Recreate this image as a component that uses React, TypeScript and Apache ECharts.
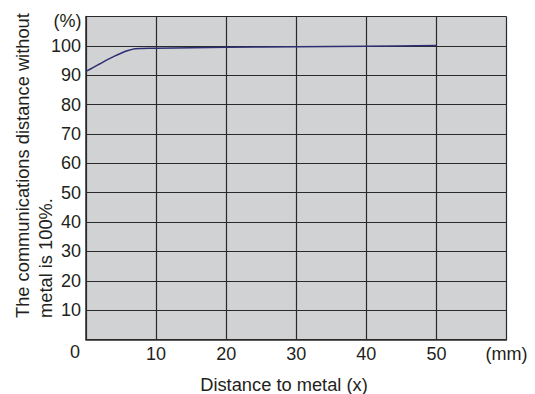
import React, { useEffect, useRef } from "react";
import * as echarts from "echarts";

const xDistance = [0, 1, 2, 3, 4, 5, 6, 7, 8, 10, 20, 30, 40, 50];
const yPercent = [91.3, 92.6, 93.9, 95.2, 96.4, 97.5, 98.4, 99.0, 99.1, 99.2, 99.5, 99.7, 99.9, 100.1];
const xTickLabels: Record<number, string> = { 0: "", 10: "10", 20: "20", 30: "30", 40: "40", 50: "50", 60: "(mm)" };
const yTickLabels: Record<number, string> = { 0: "", 110: "" };
const yUnit = "(%)";
const xTitle = "Distance to metal (x)";
const yTitleLines = ["The communications distance without", "metal is 100%."];

const FONT = "'Liberation Sans', Arial, Helvetica, sans-serif";
const TICK = 18;

export default function App() {
  const ref = useRef<HTMLDivElement>(null);
  useEffect(() => {
    if (!ref.current) return;
    const chart = echarts.init(ref.current, null, { renderer: "svg" });
    chart.setOption({
      animation: false,
      grid: { left: 86, top: 16.5, right: 28.5, bottom: 54.5, show: true, backgroundColor: "#d1d2d4", borderWidth: 0 },
      xAxis: {
        type: "value",
        min: 0,
        max: 60,
        interval: 10,
        axisLine: { show: true, lineStyle: { color: "#2a2a2a", width: 1.5 } },
        axisTick: { show: false },
        splitLine: { show: true, lineStyle: { color: "#2a2a2a", width: 1.2 } },
        axisLabel: {
          margin: 5,
          color: "#231f20",
          fontSize: TICK,
          fontFamily: FONT,
          formatter: (v: number) => (v in xTickLabels ? xTickLabels[v] : String(v)),
        },
      },
      yAxis: {
        type: "value",
        min: 0,
        max: 110,
        interval: 10,
        axisLine: { show: true, lineStyle: { color: "#2a2a2a", width: 1.5 } },
        axisTick: { show: false },
        splitLine: { show: true, lineStyle: { color: "#2a2a2a", width: 1.2 } },
        axisLabel: {
          margin: 5,
          color: "#231f20",
          fontSize: TICK,
          fontFamily: FONT,
          formatter: (v: number) => (v in yTickLabels ? yTickLabels[v] : String(v)),
        },
      },
      series: [
        {
          type: "line",
          data: xDistance.map((x, i) => [x, yPercent[i]]),
          smooth: 0.3,
          showSymbol: false,
          lineStyle: { color: "#2c2f72", width: 1.5 },
        },
      ],
      graphic: [
        { type: "text", x: 75, y: 352, style: { text: "0", fontSize: TICK, fontFamily: FONT, fill: "#231f20", textAlign: "center", textVerticalAlign: "middle" } },
        { type: "text", x: 81.5, y: 21, style: { text: yUnit, fontSize: TICK, fontFamily: FONT, fill: "#231f20", textAlign: "right", textVerticalAlign: "middle" } },
        { type: "text", x: 284, y: 384, style: { text: xTitle, fontSize: 18.3, fontFamily: FONT, fill: "#231f20", textAlign: "center", textVerticalAlign: "middle" } },
        { type: "text", x: 22, y: 318, rotation: Math.PI / 2, style: { text: yTitleLines[0], fontSize: 18.3, fontFamily: FONT, fill: "#231f20", textAlign: "left", textVerticalAlign: "middle" } },
        { type: "text", x: 45, y: 318, rotation: Math.PI / 2, style: { text: yTitleLines[1], fontSize: 18.3, fontFamily: FONT, fill: "#231f20", textAlign: "left", textVerticalAlign: "middle" } },
      ],
    });
    return () => chart.dispose();
  }, []);
  return <div ref={ref} style={{ width: 535, height: 394, position: "absolute", left: 0, top: 0, background: "#fff" }} />;
}
